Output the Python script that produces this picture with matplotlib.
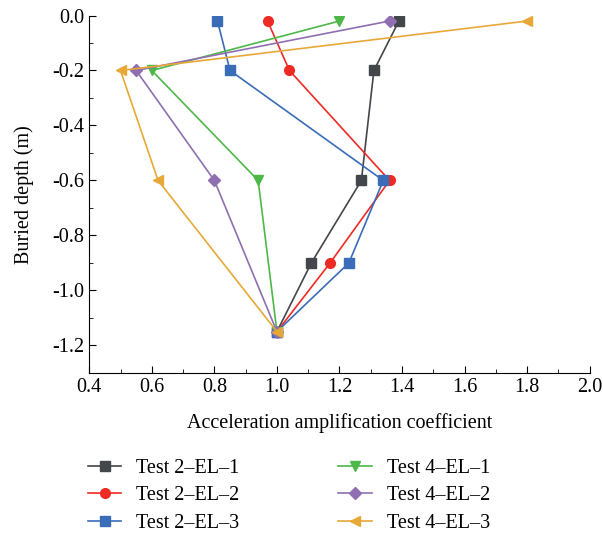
import numpy as np
import matplotlib
matplotlib.use('Agg')
import matplotlib.pyplot as plt
from matplotlib.ticker import MultipleLocator

# depths (m)
depth_a = [-0.02, -0.2, -0.6, -0.9, -1.15]
depth_b = [-0.02, -0.2, -0.6, -1.15]

t2_el1 = [1.39, 1.31, 1.27, 1.11, 1.0]
t2_el2 = [0.97, 1.04, 1.36, 1.17, 1.0]
t2_el3 = [0.81, 0.85, 1.34, 1.23, 1.0]
t4_el1 = [1.20, 0.60, 0.94, 1.0]
t4_el2 = [1.36, 0.55, 0.80, 1.0]
t4_el3 = [1.80, 0.50, 0.62, 1.0]

labels = ["Test 2\u2013EL\u20131", "Test 2\u2013EL\u20132", "Test 2\u2013EL\u20133",
          "Test 4\u2013EL\u20131", "Test 4\u2013EL\u20132", "Test 4\u2013EL\u20133"]


def main():
    plt.rcParams['font.family'] = ['Liberation Serif', 'DejaVu Serif']
    plt.rcParams['axes.unicode_minus'] = True

    fig = plt.figure(figsize=(6.03, 5.35), dpi=100)
    ax = fig.add_axes([0.148, 0.303, 0.83, 0.668])

    ax.plot(t2_el1, depth_a, marker='s', color='#43464b', markersize=6.5, lw=1.2, label=labels[0])
    ax.plot(t2_el2, depth_a, marker='o', color='#ee2a24', markersize=7, lw=1.2, label=labels[1])
    ax.plot(t2_el3, depth_a, marker='s', color='#3a6cb8', markersize=6.5, lw=1.2, label=labels[2])
    ax.plot(t4_el1, depth_b, marker='v', color='#4db848', markersize=7.5, lw=1.2, label=labels[3])
    ax.plot(t4_el2, depth_b, marker='D', color='#8f6fb1', markersize=6, lw=1.2, label=labels[4])
    ax.plot(t4_el3, depth_b, marker='<', color='#e8a838', markersize=7.5, lw=1.2, label=labels[5])

    ax.set_xlim(0.4, 2.0)
    ax.set_ylim(-1.3, 0.0)
    ax.xaxis.set_major_locator(MultipleLocator(0.2))
    ax.xaxis.set_minor_locator(MultipleLocator(0.1))
    ax.yaxis.set_major_locator(MultipleLocator(0.2))
    ax.yaxis.set_minor_locator(MultipleLocator(0.1))
    ax.xaxis.set_major_formatter(matplotlib.ticker.FormatStrFormatter('%.1f'))
    ax.yaxis.set_major_formatter(matplotlib.ticker.FormatStrFormatter('%.1f'))
    ax.tick_params(which='both', direction='in', labelsize=14.5)
    ax.tick_params(which='major', length=5)
    ax.tick_params(which='minor', length=3)
    ax.spines['top'].set_visible(False)
    ax.spines['right'].set_visible(False)

    ax.set_xlabel("Acceleration amplification coefficient", fontsize=14.5, labelpad=12)
    ax.set_ylabel("Buried depth (m)", fontsize=14.5, labelpad=13)

    fig.legend(loc='upper left', bbox_to_anchor=(0.146, 0.143), ncol=2, frameon=False,
               fontsize=14.5, handlelength=1.65, handletextpad=0.75, columnspacing=4.9,
               labelspacing=0.42, borderpad=0, borderaxespad=0)

    plt.savefig('out.png', dpi=100)


if __name__ == "__main__":
    main()
